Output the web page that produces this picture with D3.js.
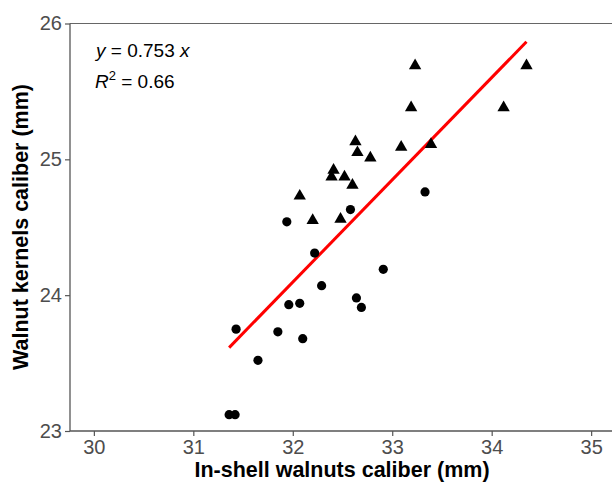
<!DOCTYPE html>
<html>
<head>
<meta charset="utf-8">
<script src="https://cdn.jsdelivr.net/npm/d3@7"></script>
<style>
body { margin: 0; background: #fff; }
text { font-family: "Liberation Sans", Arial, sans-serif; }
</style>
</head>
<body>
<div id="chart"></div>
<script>
// kernels vs in-shell caliber, two groups (circle / triangle)
var circleX = [31.36, 31.42, 31.43, 31.65, 31.85, 31.96, 32.07, 32.10, 32.29, 32.64, 32.69, 31.94, 32.22, 32.58, 33.33, 32.91];
var circleY = [23.12, 23.12, 23.75, 23.52, 23.73, 23.93, 23.94, 23.68, 24.07, 23.98, 23.91, 24.54, 24.31, 24.63, 24.76, 24.19];
var triX = [33.19, 32.63, 32.65, 32.78, 33.09, 33.39, 32.41, 32.39, 32.52, 32.60, 32.07, 32.20, 32.48, 34.35, 34.12, 33.23];
var triY = [25.38, 25.13, 25.05, 25.01, 25.09, 25.11, 24.92, 24.87, 24.87, 24.81, 24.73, 24.55, 24.56, 25.69, 25.38, 25.69];
var xTicks = [30, 31, 32, 33, 34, 35];
var yTicks = [23, 24, 25, 26];
var slope = 0.753;

var width = 612, height = 485;
var svg = d3.select("#chart").append("svg").attr("width", width).attr("height", height);

var x = d3.scaleLinear().domain([29.76, 35.25]).range([70, 616]);
var y = d3.scaleLinear().domain([23, 26]).range([431, 23.5]);

// panel top border
svg.append("line").attr("x1", 70).attr("x2", width).attr("y1", y(26)).attr("y2", y(26))
	.attr("stroke", "#666").attr("stroke-width", 1.2);

var xAxis = svg.append("g").attr("transform", "translate(0," + 431 + ")")
	.call(d3.axisBottom(x).tickValues(xTicks).tickSize(5).tickPadding(4).tickFormat(d3.format("d")));
var yAxis = svg.append("g").attr("transform", "translate(70,0)")
	.call(d3.axisLeft(y).tickValues(yTicks).tickSize(5).tickPadding(3).tickFormat(d3.format("d")));

[xAxis, yAxis].forEach(function(a){
	a.select(".domain").attr("stroke", "#555").attr("stroke-width", 1.3);
	a.selectAll(".tick line").attr("stroke", "#555").attr("stroke-width", 1.2);
	a.selectAll(".tick text").attr("fill", "#4d4d4d").style("font-size", "20px");
});
xAxis.select(".domain").attr("d", "M70,0H" + width);
yAxis.select(".domain").attr("d", "M0," + y(26) + "V431");

// regression line through the origin, drawn over data range
var allX = circleX.concat(triX);
var xr = d3.extent(allX);
svg.append("line")
	.attr("x1", x(xr[0])).attr("y1", y(slope * xr[0]))
	.attr("x2", x(xr[1])).attr("y2", y(slope * xr[1]))
	.attr("stroke", "#ff0000").attr("stroke-width", 3);

svg.selectAll("circle.pt").data(d3.range(circleX.length)).enter().append("circle")
	.attr("class", "pt")
	.attr("cx", function(i){ return x(circleX[i]); })
	.attr("cy", function(i){ return y(circleY[i]); })
	.attr("r", 4.6).attr("fill", "#000");

var tri = d3.symbol().type(d3.symbolTriangle).size(66);
svg.selectAll("path.tri").data(d3.range(triX.length)).enter().append("path")
	.attr("class", "tri")
	.attr("d", tri)
	.attr("transform", function(i){ return "translate(" + x(triX[i]) + "," + y(triY[i]) + ")"; })
	.attr("fill", "#000");

// equation
var eq = svg.append("text").attr("x", 96).attr("y", 57).style("font-size", "19px").attr("fill", "#000");
eq.append("tspan").style("font-style", "italic").text("y");
eq.append("tspan").text(" = 0.753 ");
eq.append("tspan").style("font-style", "italic").text("x");

var r2 = svg.append("text").attr("x", 95).attr("y", 88).style("font-size", "19px").attr("fill", "#000");
r2.append("tspan").style("font-style", "italic").text("R");
r2.append("tspan").attr("dy", -8).style("font-size", "13px").text("2");
r2.append("tspan").attr("dy", 8).text(" = 0.66");

// axis titles
svg.append("text").attr("x", 342).attr("y", 477).attr("text-anchor", "middle")
	.style("font-size", "21.5px").style("font-weight", "bold").text("In-shell walnuts caliber (mm)");
svg.append("text").attr("transform", "translate(28,227) rotate(-90)").attr("text-anchor", "middle")
	.style("font-size", "21.5px").style("font-weight", "bold").text("Walnut kernels caliber (mm)");
</script>
</body>
</html>
